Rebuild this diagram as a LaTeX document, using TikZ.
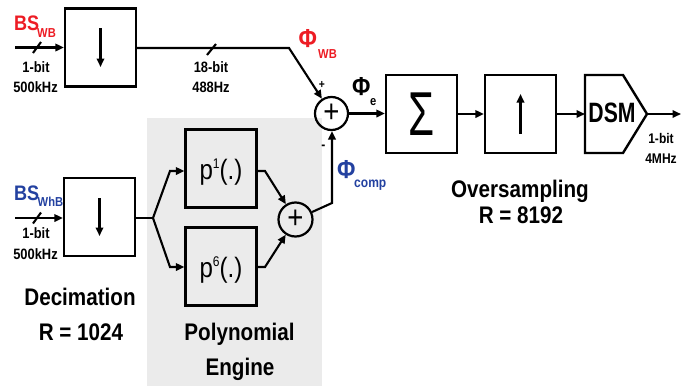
\documentclass[tikz,border=0pt]{standalone}
\usepackage{fontspec}
\setmainfont{Liberation Sans}[FakeStretch=0.86]
\newfontfamily\sigfont{Liberation Sans}
\usetikzlibrary{arrows.meta}
\definecolor{myred}{RGB}{237,28,36}
\definecolor{myblue}{RGB}{35,65,160}
\definecolor{panel}{RGB}{235,235,235}
\newcommand{\supnum}[1]{\raisebox{10.5pt}{\fontsize{14}{14}\selectfont #1}}
\begin{document}
\begin{tikzpicture}[x=1pt,y=-1pt,
  blk/.style={draw, line width=2.4pt, minimum width=71pt, minimum height=78pt, inner sep=0pt},
  sumc/.style={draw, circle, line width=2.2pt, minimum size=34pt, inner sep=0pt, font=\fontsize{32}{32}\selectfont},
  wire/.style={line width=2.1pt},
  arr/.style={wire, -{Triangle[length=8.5pt,width=7.5pt]}},
  lbl/.style={font=\bfseries\fontsize{15}{15}\selectfont, anchor=base, inner sep=0pt},
  slbl/.style={font=\bfseries\fontsize{14}{14}\selectfont, anchor=base, inner sep=0pt},
  big/.style={font=\bfseries\fontsize{24}{24}\selectfont, anchor=base, inner sep=0pt},
  phi/.style={font=\bfseries\fontsize{26}{26}\selectfont, anchor=base west, inner sep=0pt},
  sub/.style={font=\bfseries\fontsize{13}{13}\selectfont, anchor=base west, inner sep=0pt},
  poly/.style={blk, font=\fontsize{28}{28}\selectfont, text height=21pt, text depth=0pt},
]
\useasboundingbox (0,0) rectangle (691,386);
\fill[panel] (147,118) rectangle (322,386);

% nodes
\node[blk] (dec1) at (100.5,47.5) {};
\node[blk] (dec2) at (99.5,217) {};
\node[poly] (p1) at (221,168.5) {p\supnum{1}(.)};
\node[poly] (p6) at (221,266.5) {p\supnum{6}(.)};
\node[sumc] (sum2) at (295.5,219.5) {\raisebox{-1pt}{+}};
\node[sumc, minimum size=33pt] (sum1) at (331.5,113.5) {\raisebox{-1pt}{+}};
\node[blk] (sig) at (421.5,114) {\sigfont\fontsize{62}{62}\selectfont\scalebox{0.68}[1]{Σ}};
\node[blk] (up) at (520.5,114) {};
\draw[line width=2.4pt] (585,75) -- (623,75) -- (647,114) -- (623,153) -- (585,153) -- cycle;
\node[font=\bfseries\fontsize{28}{28}\selectfont, inner sep=0pt] (dsm) at (612,113) {\scalebox{0.88}[1]{DSM}};
\coordinate (dsmin) at (585,114);
\coordinate (dsmtip) at (647,114);

% internal arrows
\draw[arr] ([yshift=19.5pt]dec1.center) -- ([yshift=-19.5pt]dec1.center);
\draw[arr] ([yshift=19pt]dec2.center) -- ([yshift=-19pt]dec2.center);
\draw[arr] ([yshift=-20pt]up.center) -- ([yshift=20pt]up.center);

% inputs
\coordinate (in1) at (15,47.5);
\coordinate (in2) at (15,218);
\draw[arr] (in1) -- (in1 -| dec1.west);
\draw[arr] (in2) -- (in2 -| dec2.west);
\draw[wire] (33,53) -- (41,42);
\draw[wire] (33,223.5) -- (41,212.5);

% top path
\coordinate (bend1) at (289,48);
\draw[arr] (dec1.east |- bend1) -- (bend1) -- (sum1);
\draw[wire] (207,55) -- (216,44);

% bottom path
\coordinate (br) at (153,218);
\coordinate (b1) at (170,171);
\coordinate (b6) at (170,267);
\draw[wire] (dec2.east |- br) -- (br);
\draw[arr] (br) -- (b1) -- (b1 -| p1.west);
\draw[arr] (br) -- (b6) -- (b6 -| p6.west);
\coordinate (o1) at (265,171);
\coordinate (o6) at (265,267);
\draw[arr] (o1 -| p1.east) -- (o1) -- (sum2);
\draw[arr] (o6 -| p6.east) -- (o6) -- (sum2);
\coordinate (up2) at (332,203);
\draw[arr] (sum2) -- (up2) -- (up2 |- sum1.south);

% main chain
\draw[arr] (sum1.east) -- (sum1.east -| sig.west);
\draw[arr] (sig.east) -- (up.west);
\draw[arr] (up.east) -- (dsmin);
\coordinate (out) at (681,114);
\draw[arr] (dsmtip) -- (out);

% signs
\node[font=\bfseries\fontsize{12}{12}\selectfont, inner sep=0pt] (plus) at (322,85) {+};
\node[font=\bfseries\fontsize{14}{14}\selectfont, inner sep=0pt] (minus) at (323.5,147) {-};

% labels
\node[lbl] (l1a) at (36,72) {1-bit};
\node[lbl] (l1b) at (35.5,92) {500kHz};
\node[lbl] (l2a) at (36,238) {1-bit};
\node[lbl] (l2b) at (35.5,259) {500kHz};
\node[lbl] (l3a) at (211,72) {18-bit};
\node[lbl] (l3b) at (211,92) {488Hz};
\node[slbl] (l4a) at (661,143) {1-bit};
\node[slbl] (l4b) at (661,163) {4MHz};

\node[font=\bfseries\fontsize{21}{21}\selectfont, anchor=base west, inner sep=0pt, text=myred] (bs1) at (14,30) {BS};
\node[sub, text=myred] (bs1s) at (37,37) {WB};
\node[font=\bfseries\fontsize{21}{21}\selectfont, anchor=base west, inner sep=0pt, text=myblue] (bs2) at (14,200) {BS};
\node[sub, text=myblue] (bs2s) at (37.5,206) {WhB};

\node[phi, text=myred] (phwb) at (298.5,47) {Φ};
\node[sub, text=myred] (phwbs) at (318,58) {WB};
\node[phi] (phe) at (352,95) {Φ};
\node[sub] (phes) at (370,105) {e};
\node[phi, text=myblue] (phc) at (337,178) {Φ};
\node[sub, font=\bfseries\fontsize{14}{14}\selectfont, text=myblue] (phcs) at (354,187) {comp};

\node[big] (t1) at (80,305) {Decimation};
\node[big] (t2) at (81,340) {R = 1024};
\node[big] (t3) at (239.5,340) {Polynomial};
\node[big] (t4) at (240,375) {Engine};
\node[big] (t5) at (520,197) {Oversampling};
\node[big] (t6) at (521,223) {R = 8192};
\end{tikzpicture}
\end{document}
